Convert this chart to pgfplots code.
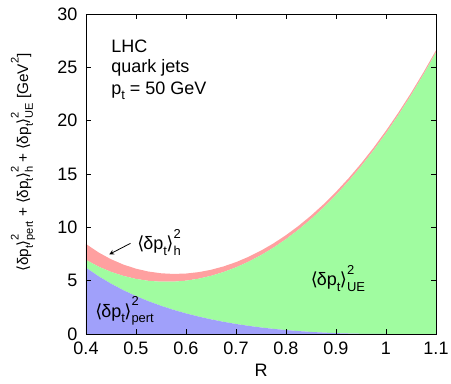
\documentclass[border=0pt]{standalone}
\usepackage{pgfplots}
\usepackage{pgfplotstable}
\pgfplotsset{compat=1.18}
\usetikzlibrary{calc}
\usepackage{fontspec}
\setmainfont{Liberation Sans}
\newfontfamily\djvfont{DejaVu Sans}
\definecolor{cblue}{RGB}{160,160,250}
\definecolor{cgreen}{RGB}{160,252,160}
\definecolor{cpink}{RGB}{255,160,160}
\newcommand\mysub[1]{\raisebox{-0.3em}{\scalebox{0.72}{#1}}}
\newcommand\mysup[1]{\raisebox{0.62em}{\scalebox{0.72}{#1}}}
\newcommand\supsub[2]{\rlap{\mysup{#1}}\mysub{#2}}
\newcommand\dpt{{\djvfont ⟨}\kern-0.05em δp\mysub{t}\kern-0.03em{\djvfont ⟩}}
\pgfplotstableread{
R P U H
0.400 6.213 0.728 1.500
0.425 5.418 0.902 1.329
0.450 4.718 1.106 1.185
0.475 4.101 1.340 1.064
0.500 3.555 1.607 0.960
0.525 3.072 1.911 0.871
0.550 2.645 2.255 0.793
0.575 2.266 2.639 0.726
0.600 1.931 3.070 0.667
0.625 1.635 3.548 0.614
0.650 1.373 4.079 0.568
0.675 1.143 4.664 0.527
0.700 0.941 5.306 0.490
0.725 0.765 6.010 0.457
0.750 0.612 6.778 0.427
0.775 0.481 7.615 0.400
0.800 0.368 8.524 0.375
0.825 0.274 9.507 0.353
0.850 0.195 10.571 0.332
0.875 0.132 11.716 0.313
0.900 0.082 12.948 0.296
0.925 0.045 14.272 0.280
0.950 0.019 15.689 0.266
0.975 0.005 17.204 0.252
1.000 0.000 18.821 0.240
1.025 0.000 20.546 0.228
1.050 0.000 22.381 0.218
1.075 0.000 24.331 0.208
1.100 0.000 26.400 0.198
}\mydata
\begin{document}
\begin{tikzpicture}
\begin{axis}[
  scale only axis,
  width=262.5pt, height=240pt,
  xmin=0.4, xmax=1.1, ymin=0, ymax=30,
  xtick={0.4,0.5,0.6,0.7,0.8,0.9,1,1.1},
  ytick={0,5,10,15,20,25,30},
  stack plots=y,
  clip=false,
  axis on top,
  tick style={black, line width=0.6pt},
  major tick length=3.75pt,
  axis line style={line width=0.6pt},
  /pgf/number format/assume math mode=true,
  ticklabel style={font=\fontsize{13.5}{15}\selectfont},
  xticklabel style={yshift=-2.5pt},
  yticklabel style={xshift=-3pt},
  xlabel={R},
  xlabel style={font=\fontsize{13.5}{15}\selectfont, yshift=0pt},
]
\addplot[draw=none, fill=cblue] table[x=R, y=P] {\mydata} \closedcycle;
\addplot[draw=none, fill=cgreen] table[x=R, y=U] {\mydata} \closedcycle;
\addplot[draw=none, fill=cpink] table[x=R, y=H] {\mydata} \closedcycle;
\coordinate (sw) at (axis cs:0.4,0);
\coordinate (t1) at (axis cs:0.45,26.41);
\coordinate (t2) at (axis cs:0.45,24.56);
\coordinate (t3) at (axis cs:0.45,22.50);
\coordinate (th) at (axis cs:0.502,7.9);
\coordinate (tp) at (axis cs:0.418,1.59);
\coordinate (tu) at (axis cs:0.849,4.53);
\coordinate (yl) at (axis cs:0.274,16.1);
\coordinate (a1) at (axis cs:0.489,8.5);
\coordinate (a2) at (axis cs:0.4466,7.47);
\end{axis}
\begin{scope}[every node/.style={font=\fontsize{13.5}{15}\selectfont, inner sep=0pt}]
\node[anchor=base west] at (t1) {LHC};
\node[anchor=base west] at (t2) {quark jets};
\node[anchor=base west] at (t3) {p\mysub{t} = 50 GeV};
\node[anchor=base west] at (th) {\dpt\supsub{2}{h}};
\node[anchor=base west] at (tp) {\dpt\supsub{2}{pert}};
\node[anchor=base west] at (tu) {\dpt\supsub{2}{UE}};
\node[rotate=90, anchor=center, font=\fontsize{11.5}{13}\selectfont] at (yl) {\dpt\supsub{2}{pert} + \dpt\supsub{2}{h} + \dpt\supsub{2}{UE} [GeV\mysup{2}]};
\end{scope}
\draw[-stealth, line width=0.6pt] (a1) -- (a2);
\pgfresetboundingbox
\path[use as bounding box] ($(sw)+(-64.5pt,-36.75pt)$) rectangle ++(338.25pt,287.25pt);
\end{tikzpicture}
\end{document}
